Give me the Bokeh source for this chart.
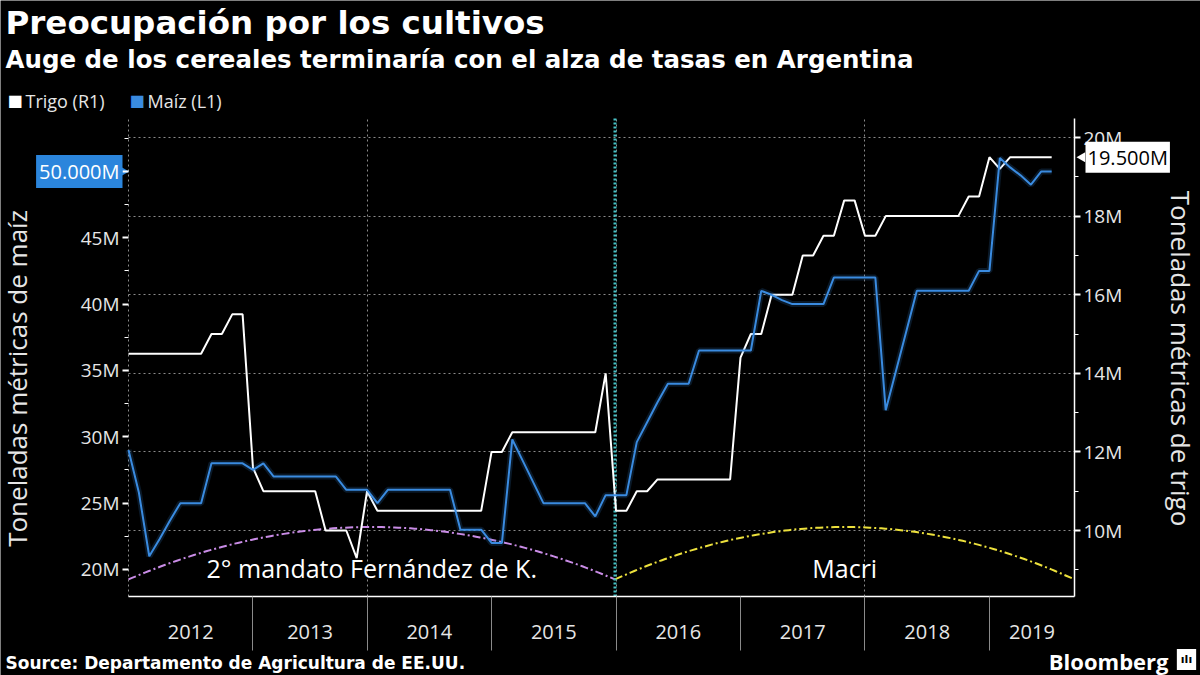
import math
import numpy as np
import pandas as pd
from bokeh.plotting import figure
from bokeh.models import (Range1d, LinearAxis, FixedTicker, Label, Grid, ColumnDataSource)
from bokeh.core.properties import value
from bokeh.embed import file_html
from bokeh.resources import INLINE

# ---------------- data ----------------
# Monthly USDA (WASDE) releases, Jan 2012 - Jul 2019 (no Oct 2013 report)
release_months = [m.strftime("%Y-%m") for m in pd.period_range("2012-01", "2019-07", freq="M")
                  if m.strftime("%Y-%m") != "2013-10"]

# Trigo, million metric tons (right axis)
trigo = [14.5, 14.5, 14.5, 14.5, 14.5, 14.5, 14.5, 14.5, 15.0, 15.0, 15.5, 15.5,
         11.6, 11.0, 11.0, 11.0, 11.0, 11.0, 11.0, 10.0, 10.0, 10.0, 9.3,
         11.0, 10.5, 10.5, 10.5, 10.5, 10.5, 10.5, 10.5, 10.5, 10.5, 10.5, 10.5,
         12.0, 12.0, 12.5, 12.5, 12.5, 12.5, 12.5, 12.5, 12.5, 12.5, 12.5, 14.0,
         10.5, 10.5, 11.0, 11.0, 11.3, 11.3, 11.3, 11.3, 11.3, 11.3, 11.3, 11.3,
         14.4, 15.0, 15.0, 16.0, 16.0, 16.0, 17.0, 17.0, 17.5, 17.5, 18.4, 18.4,
         17.5, 17.5, 18.0, 18.0, 18.0, 18.0, 18.0, 18.0, 18.0, 18.0, 18.5, 18.5,
         19.5, 19.2, 19.5, 19.5, 19.5, 19.5, 19.5]

# Maíz, million metric tons (left axis)
maiz = [29.0, 25.8, 21.0, 22.3, 23.7, 25.0, 25.0, 25.0, 28.0, 28.0, 28.0, 28.0,
        27.5, 28.0, 27.0, 27.0, 27.0, 27.0, 27.0, 27.0, 27.0, 26.0, 26.0,
        26.0, 25.0, 26.0, 26.0, 26.0, 26.0, 26.0, 26.0, 26.0, 23.0, 23.0, 23.0,
        22.0, 22.0, 29.8, 28.2, 26.6, 25.0, 25.0, 25.0, 25.0, 25.0, 24.0, 25.6,
        25.6, 25.6, 29.6, 31.1, 32.6, 34.0, 34.0, 34.0, 36.5, 36.5, 36.5, 36.5,
        36.5, 36.5, 41.0, 40.7, 40.3, 40.0, 40.0, 40.0, 40.0, 42.0, 42.0, 42.0,
        42.0, 42.0, 32.0, 35.0, 38.0, 41.0, 41.0, 41.0, 41.0, 41.0, 41.0, 42.5,
        42.5, 51.0, 50.3, 49.7, 49.0, 50.0, 50.0]

year_labels = ["2012", "2013", "2014", "2015", "2016", "2017", "2018", "2019"]

series_labels = ["Trigo (R1)", "Maíz (L1)"]
last_maiz_tag = "50.000M"
last_trigo_tag = "19.500M"

periods = ["2° mandato Fernández de K.", "Macri"]
macri_start = 46.9          # change of government, in release-index units
x_end = 91.2                # right end of the time axis (release index)

left_ticks = [20, 25, 30, 35, 40, 45, 50]
right_ticks = [10, 12, 14, 16, 18, 20]
maiz_lim = (17.965, 53.985)
trigo_lim = (8.321, 20.484)

# ---------------- layout (page pixels) ----------------
W, H = 1200, 675
PL, PR, PT, PB = 128, 1074, 118, 596     # plot area edges


def ext(lo, hi, a_px, b_px, full_px, invert=False):
    """Extend a data interval mapped to [a_px, b_px] to the full canvas [0, full_px]."""
    per = (hi - lo) / (b_px - a_px)
    if invert:   # screen y grows downward
        return lo - (full_px - b_px) * per, hi + a_px * per
    return lo - a_px * per, hi + (full_px - b_px) * per


xr = ext(0, x_end, PL, PR, W)
ylr = ext(maiz_lim[0], maiz_lim[1], PT, PB, H, invert=True)
yrr = ext(trigo_lim[0], trigo_lim[1], PT, PB, H, invert=True)

x = list(range(len(release_months)))
year_start = [next(i for i, m in enumerate(release_months) if m.startswith(y)) for y in year_labels]
year_bounds = year_start + [x_end]
year_mid = [(year_bounds[k] + year_bounds[k + 1]) / 2 for k in range(len(year_labels))]
period_start = [0, macri_start]
period_end = [macri_start, x_end]

BG = "#000000"
WHITE = "#ffffff"
BLUE = "#3a8be0"
TAGBLUE = "#2b85dc"
TXT = "#e6e6e6"
GRID = "#8a8a8a"
FONT = "Open Sans"
BOLD = "DejaVu Sans"

p = figure(width=W, height=H, output_backend="svg", toolbar_location=None,
           x_range=Range1d(*xr), y_range=Range1d(*ylr),
           background_fill_color=BG, border_fill_color=BG, min_border=0)
try:
    p.title_location = None
except Exception:
    p.title.visible = False
p.outline_line_color = None
p.extra_y_ranges = {"trigo": Range1d(*yrr)}

# left axis (maíz), drawn at the left edge of the plot area
yl = p.yaxis[0]
yl.fixed_location = 0
yl.bounds = maiz_lim
yl.ticker = FixedTicker(ticks=left_ticks, minor_ticks=[t + 2.5 for t in left_ticks])
yl.major_label_overrides = {t: ("" if t == 50 else f"{t}M") for t in left_ticks}
yl.axis_line_color = None
yl.major_tick_line_color = WHITE
yl.major_tick_line_width = 2
yl.major_tick_out = 6
yl.major_tick_in = 0
yl.minor_tick_line_color = WHITE
yl.minor_tick_out = 4
yl.minor_tick_in = 0
yl.major_label_text_color = TXT
yl.major_label_text_font = FONT
yl.major_label_text_font_size = "19px"
yl.major_label_standoff = 3

# right axis (trigo)
yr = LinearAxis(y_range_name="trigo", fixed_location=x_end, bounds=trigo_lim,
                ticker=FixedTicker(ticks=right_ticks, minor_ticks=[t - 1 for t in right_ticks]))
yr.major_label_overrides = {t: f"{t}M" for t in right_ticks}
yr.axis_line_color = WHITE
yr.axis_line_width = 1.5
yr.major_tick_line_color = WHITE
yr.major_tick_line_width = 2
yr.major_tick_out = 6
yr.major_tick_in = 0
yr.minor_tick_line_color = WHITE
yr.minor_tick_out = 4
yr.minor_tick_in = 0
yr.major_label_text_color = TXT
yr.major_label_text_font = FONT
yr.major_label_text_font_size = "19px"
yr.major_label_standoff = 3
p.add_layout(yr, "right")

# bottom axis (years)
xb = p.xaxis[0]
xb.fixed_location = maiz_lim[0]
xb.bounds = (0, x_end)
xb.ticker = FixedTicker(ticks=year_mid, minor_ticks=year_start[1:])
xb.major_label_overrides = {m: lab for m, lab in zip(year_mid, year_labels)}
xb.axis_line_color = WHITE
xb.axis_line_width = 1.5
xb.major_tick_line_color = None
xb.major_tick_out = 0
xb.major_tick_in = 0
xb.minor_tick_line_color = GRID
xb.minor_tick_out = 54
xb.minor_tick_in = 0
xb.major_label_text_color = TXT
xb.major_label_text_font = FONT
xb.major_label_text_font_size = "20px"
xb.major_label_standoff = -26

# grids
p.xgrid.ticker = FixedTicker(ticks=[year_start[0], year_start[2], year_start[4], year_start[6]])
p.xgrid.grid_line_color = GRID
p.xgrid.grid_line_dash = "2 3"
p.xgrid.cross_bounds = maiz_lim
p.ygrid.visible = False
rg = Grid(dimension=1, ticker=FixedTicker(ticks=right_ticks), y_range_name="trigo",
          grid_line_color=GRID, grid_line_dash="2 3", cross_bounds=(0, x_end))
p.add_layout(rg)

# period arcs and labels
for k, (s, e) in enumerate(zip(period_start, period_end)):
    xs = np.linspace(s, e, 120)
    c = (s + e) / 2
    h = (e - s) / 2
    ys = 19.25 + (23.2 - 19.25) * (1 - ((xs - c) / h) ** 2)
    p.line(xs, ys, line_color=["#c98ce6", "#ece03c"][k], line_width=2, line_dash="8 3 2 3")

src_periods = ColumnDataSource(dict(x=[(s + e) / 2 for s, e in zip(period_start, period_end)],
                                    y=[20.1, 20.1], t=periods))
p.text("x", "y", text="t", source=src_periods, text_align="center", text_baseline="middle",
       text_color=WHITE, text_font=value(FONT), text_font_size="25px")

# change of government marker
p.segment(x0=[macri_start], y0=[maiz_lim[0]], x1=[macri_start], y1=[maiz_lim[1]],
          line_color="#45c2c6", line_width=3, line_dash="2 2")

# series
src = ColumnDataSource(dict(x=x, trigo=trigo, maiz=maiz))
p.line("x", "trigo", source=src, y_range_name="trigo", line_color=WHITE, line_width=2)
p.line("x", "maiz", source=src, line_color=BLUE, line_width=6, line_alpha=0.18)
p.line("x", "maiz", source=src, line_color=BLUE, line_width=2)

# last value tags
p.add_layout(Label(x=PL - 6, y=maiz[-1], x_units="screen", text=last_maiz_tag,
                   text_align="right", text_baseline="middle", text_color=WHITE,
                   text_font=FONT, text_font_size="20px", background_fill_color=TAGBLUE,
                   padding=3))
p.scatter(x=[-0.45], y=[maiz[-1]], marker="triangle", angle=-math.pi / 2, size=9,
          fill_color=TAGBLUE, line_color=None)
p.add_layout(Label(x=PR + 11, y=trigo[-1], x_units="screen", y_range_name="trigo",
                   text=last_trigo_tag, text_align="left", text_baseline="middle",
                   text_color="#000000", text_font=FONT, text_font_size="20px",
                   background_fill_color=WHITE, padding=2))
p.scatter(x=[x_end + 0.75], y=[trigo[-1]], y_range_name="trigo", marker="triangle",
          angle=math.pi / 2, size=10, fill_color=WHITE, line_color=None)

# axis titles
p.add_layout(Label(x=16, y=H - 378, x_units="screen", y_units="screen",
                   text="Toneladas métricas de maíz", angle=math.pi / 2,
                   text_align="center", text_baseline="middle", text_color=TXT,
                   text_font=FONT, text_font_size="26px"))
p.add_layout(Label(x=1180, y=H - 358, x_units="screen", y_units="screen",
                   text="Toneladas métricas de trigo", angle=-math.pi / 2,
                   text_align="center", text_baseline="middle", text_color=TXT,
                   text_font=FONT, text_font_size="26px"))

# titles (vertical centres of the capitals, page pixels)
p.add_layout(Label(x=5, y=H - 22, x_units="screen", y_units="screen",
                   text="Preocupación por los cultivos", text_align="left",
                   text_baseline="middle", text_color=WHITE, text_font=BOLD,
                   text_font_style="bold", text_font_size="32.5px"))
p.add_layout(Label(x=5, y=H - 59, x_units="screen", y_units="screen",
                   text="Auge de los cereales terminaría con el alza de tasas en Argentina",
                   text_align="left", text_baseline="middle", text_color=WHITE,
                   text_font=BOLD, text_font_style="bold", text_font_size="24.5px"))

# legend
for lab, col, lx in zip(series_labels, [WHITE, BLUE], [7, 129]):
    p.add_layout(Label(x=lx, y=H - 100, x_units="screen", y_units="screen", text="■",
                       text_align="left", text_baseline="middle", text_color=col,
                       text_font="DejaVu Sans", text_font_size="16px"))
    p.add_layout(Label(x=lx + 18, y=H - 100, x_units="screen", y_units="screen", text=lab,
                       text_align="left", text_baseline="middle", text_color=TXT,
                       text_font=FONT, text_font_size="18px"))

# footer
p.add_layout(Label(x=5, y=H - 662, x_units="screen", y_units="screen",
                   text="Source: Departamento de Agricultura de EE.UU.", text_align="left",
                   text_baseline="middle", text_color=WHITE, text_font=BOLD,
                   text_font_style="bold", text_font_size="17px"))
p.add_layout(Label(x=1168, y=H - 660, x_units="screen", y_units="screen", text="Bloomberg",
                   text_align="right", text_baseline="middle", text_color=WHITE,
                   text_font=FONT, text_font_style="bold", text_font_size="22px"))
p.add_layout(Label(x=1186, y=H - 659, x_units="screen", y_units="screen", text="ılı",
                   text_align="center", text_baseline="middle", text_color="#000000",
                   text_font="DejaVu Sans", text_font_style="bold", text_font_size="11px",
                   background_fill_color=WHITE, padding=4))

open("out.html", "w").write(file_html(p, INLINE))
